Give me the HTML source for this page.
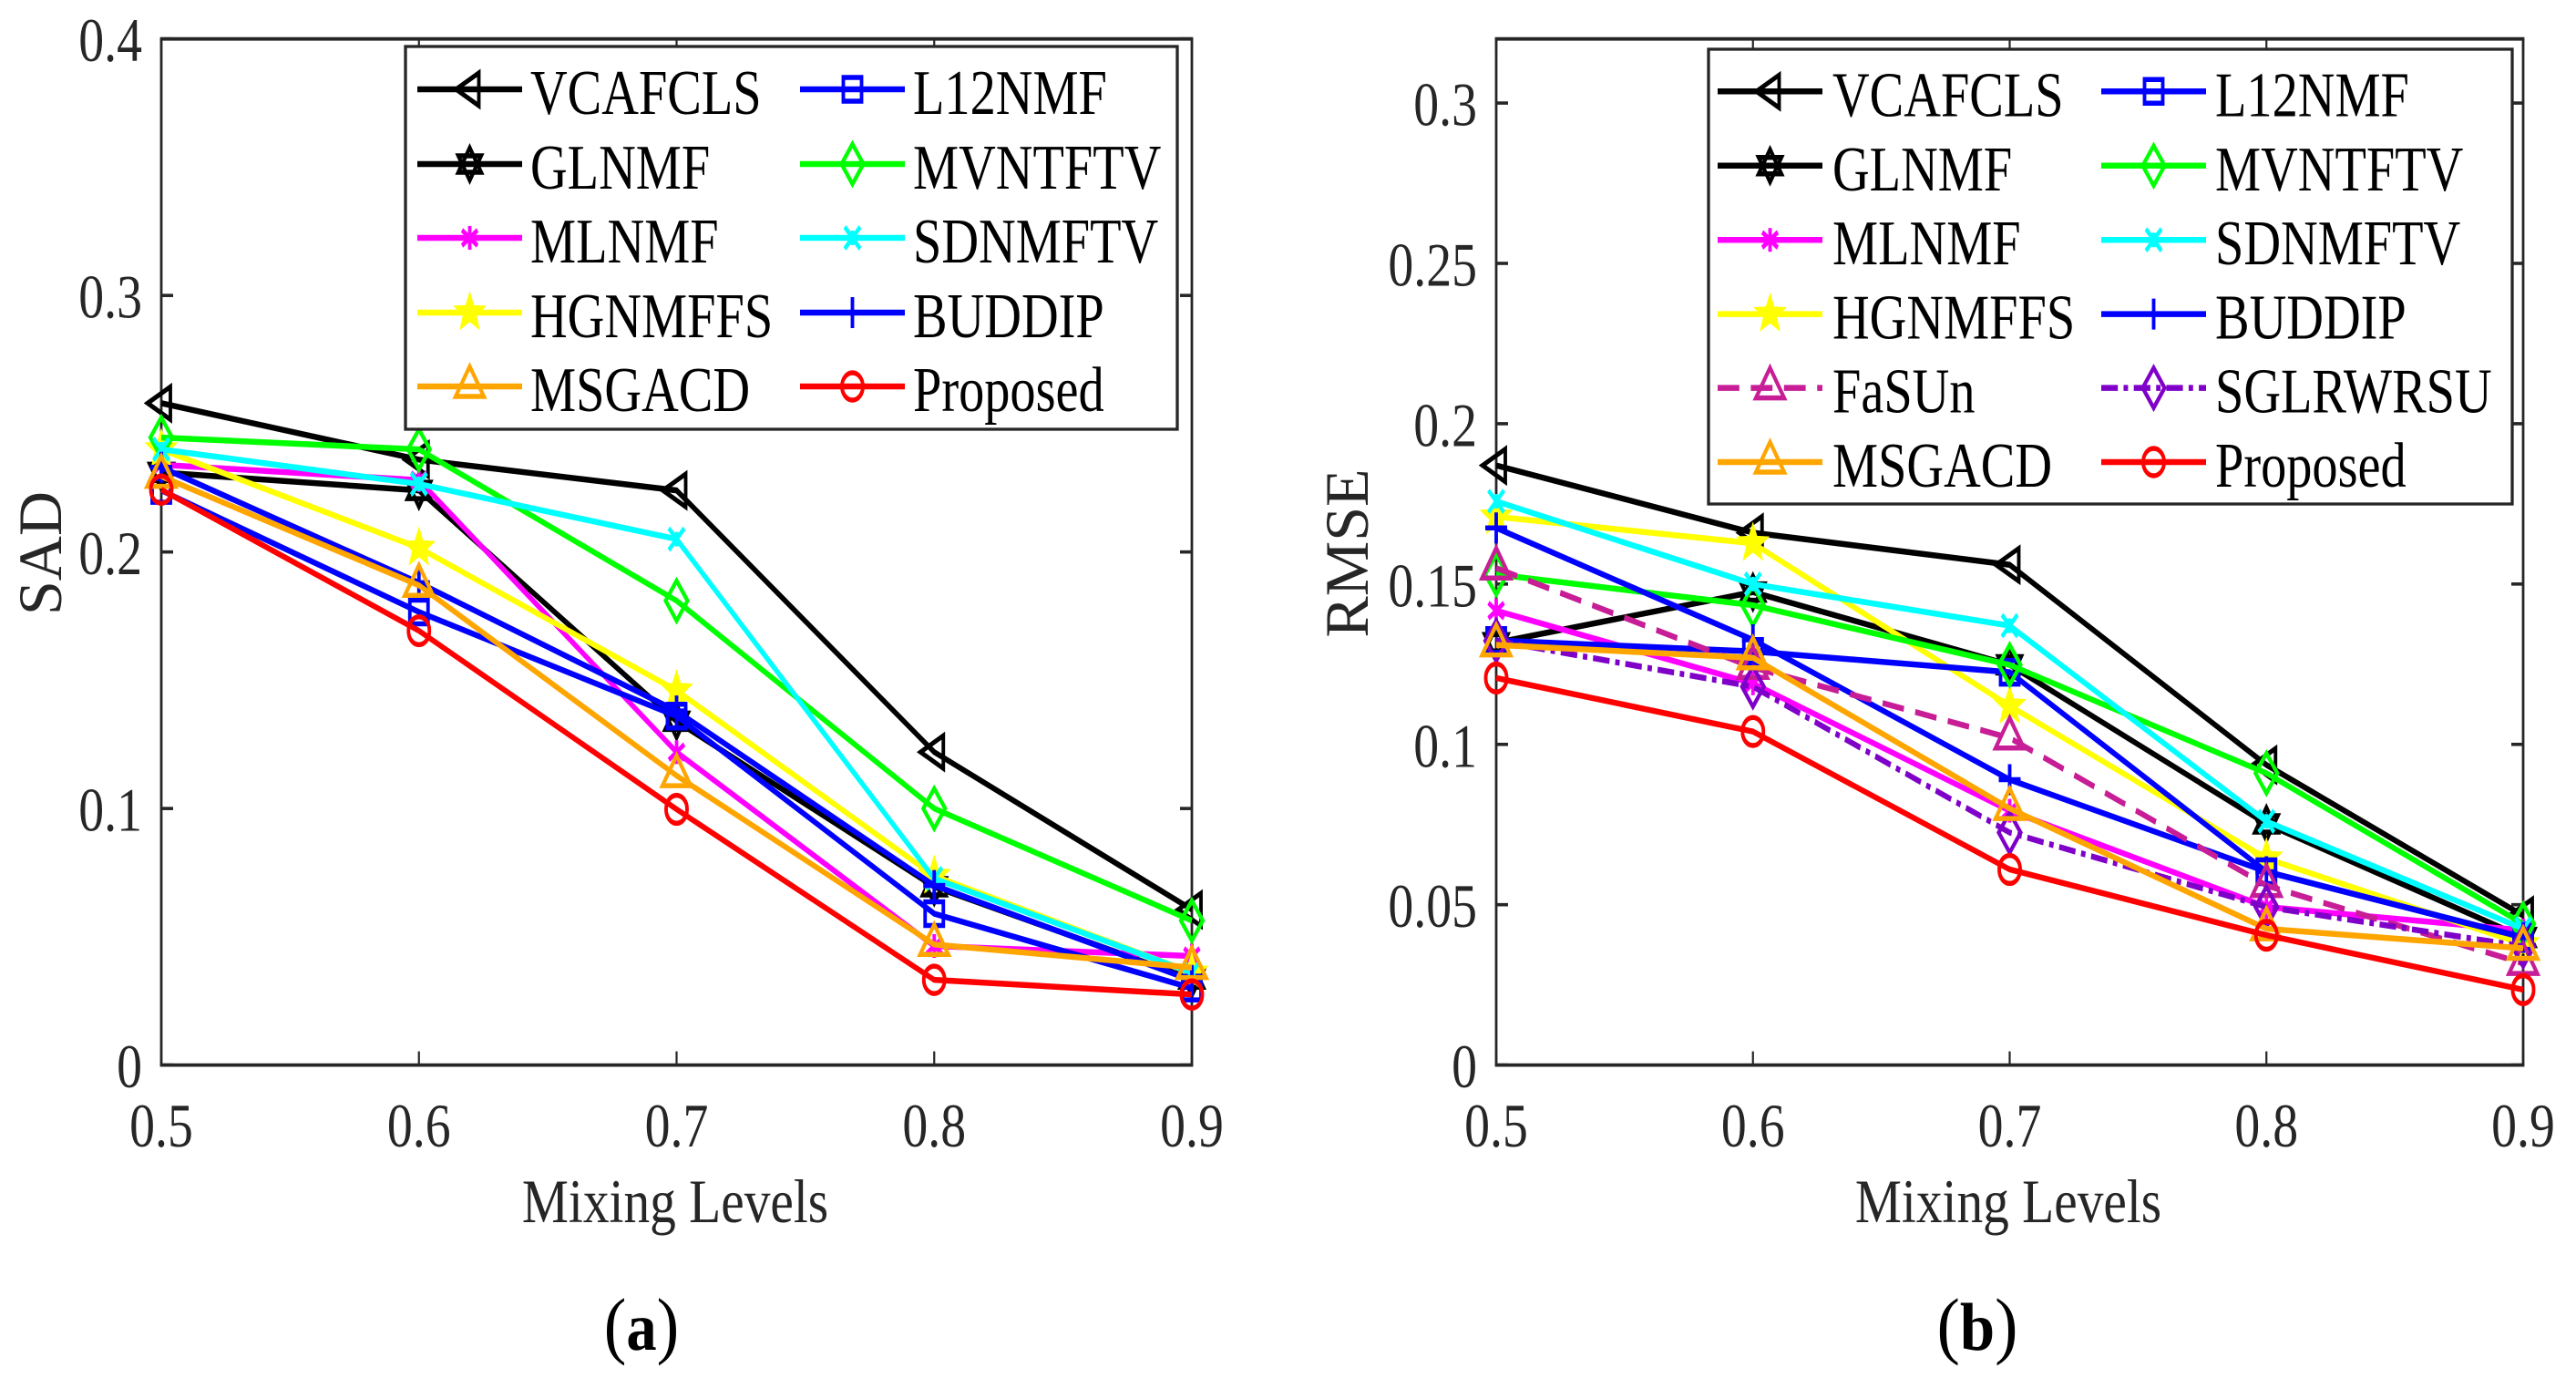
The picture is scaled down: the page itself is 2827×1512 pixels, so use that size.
<!DOCTYPE html>
<html lang="en">
<head>
<meta charset="utf-8">
<title>SAD and RMSE versus Mixing Levels</title>
<style>
html,body{margin:0;padding:0;background:#fff;}
svg{display:block;}
text{font-family:"Liberation Serif","DejaVu Serif",serif;}
</style>
</head>
<body>
<svg id="figure" xmlns="http://www.w3.org/2000/svg" width="2827" height="1512" viewBox="0 0 2827 1512">
  <rect x="0" y="0" width="2827" height="1512" fill="#ffffff"/>
  <g id="panel-a"></g>
  <g id="panel-b"></g>
  <text transform="translate(704,1481) scale(0.9,1)" text-anchor="middle" font-size="82" fill="#000">(<tspan font-weight="bold" font-size="74">a</tspan>)</text>
  <text transform="translate(2170,1481) scale(0.93,1)" text-anchor="middle" font-size="82" fill="#000">(<tspan font-weight="bold" font-size="74">b</tspan>)</text>
</svg>
<script>
// ---- shared categories ----
const mixingLevels = [0.5, 0.6, 0.7, 0.8, 0.9];
const xTickLabels = ['0.5', '0.6', '0.7', '0.8', '0.9'];

// ---- SAD panel data ----
const sadTicks = [0, 0.1, 0.2, 0.3, 0.4];
const sadTickLabels = ['0', '0.1', '0.2', '0.3', '0.4'];
const sadVCAFCLS = [0.258, 0.236, 0.224, 0.122, 0.0606];
const sadGLNMF = [0.231, 0.224, 0.134, 0.0695, 0.0335];
const sadMLNMF = [0.234, 0.228, 0.122, 0.0464, 0.0425];
const sadHGNMFFS = [0.240, 0.2016, 0.146, 0.0737, 0.036];
const sadMSGACD = [0.2295, 0.187, 0.1128, 0.047, 0.038];
const sadL12NMF = [0.224, 0.1766, 0.136, 0.059, 0.030];
const sadMVNTFTV = [0.2446, 0.240, 0.181, 0.100, 0.0563];
const sadSDNMFTV = [0.240, 0.2265, 0.205, 0.0727, 0.036];
const sadBUDDIP = [0.233, 0.188, 0.138, 0.070, 0.033];
const sadProposed = [0.2243, 0.1693, 0.0997, 0.0332, 0.0275];

// ---- RMSE panel data ----
const rmseTicks = [0, 0.05, 0.1, 0.15, 0.2, 0.25, 0.3];
const rmseTickLabels = ['0', '0.05', '0.1', '0.15', '0.2', '0.25', '0.3'];
const rmseVCAFCLS = [0.187, 0.166, 0.156, 0.0936, 0.0466];
const rmseGLNMF = [0.1317, 0.1475, 0.1248, 0.0752, 0.0398];
const rmseMLNMF = [0.1417, 0.119, 0.0793, 0.0493, 0.042];
const rmseHGNMFFS = [0.171, 0.1627, 0.112, 0.0644, 0.0377];
const rmseFaSUn = [0.155, 0.124, 0.102, 0.056, 0.0317];
const rmseSGLRWRSU = [0.1323, 0.118, 0.0725, 0.0493, 0.037];
const rmseMSGACD = [0.131, 0.127, 0.080, 0.0425, 0.0364];
const rmseL12NMF = [0.1324, 0.129, 0.1225, 0.0603, 0.0398];
const rmseMVNTFTV = [0.153, 0.1434, 0.1248, 0.091, 0.044];
const rmseSDNMFTV = [0.1758, 0.150, 0.137, 0.076, 0.0425];
const rmseBUDDIP = [0.1675, 0.1326, 0.089, 0.0603, 0.0398];
const rmseProposed = [0.1207, 0.104, 0.061, 0.0405, 0.0235];

// ---- series collections (draw order) ----
const sadSeries = [
  ['VCAFCLS', sadVCAFCLS], ['GLNMF', sadGLNMF], ['MLNMF', sadMLNMF], ['HGNMFFS', sadHGNMFFS],
  ['L12NMF', sadL12NMF], ['MVNTFTV', sadMVNTFTV], ['SDNMFTV', sadSDNMFTV], ['BUDDIP', sadBUDDIP],
  ['MSGACD', sadMSGACD], ['Proposed', sadProposed]
];
const rmseSeries = [
  ['VCAFCLS', rmseVCAFCLS], ['GLNMF', rmseGLNMF], ['MLNMF', rmseMLNMF], ['HGNMFFS', rmseHGNMFFS],
  ['L12NMF', rmseL12NMF], ['MVNTFTV', rmseMVNTFTV], ['SDNMFTV', rmseSDNMFTV], ['BUDDIP', rmseBUDDIP],
  ['FaSUn', rmseFaSUn], ['SGLRWRSU', rmseSGLRWRSU], ['MSGACD', rmseMSGACD], ['Proposed', rmseProposed]
];
const sadLegendColumns = [
  ['VCAFCLS', 'GLNMF', 'MLNMF', 'HGNMFFS', 'MSGACD'],
  ['L12NMF', 'MVNTFTV', 'SDNMFTV', 'BUDDIP', 'Proposed']
];
const rmseLegendColumns = [
  ['VCAFCLS', 'GLNMF', 'MLNMF', 'HGNMFFS', 'FaSUn', 'MSGACD'],
  ['L12NMF', 'MVNTFTV', 'SDNMFTV', 'BUDDIP', 'SGLRWRSU', 'Proposed']
];

// ---- styles ----
const seriesStyle = {
  VCAFCLS:  {color: '#000000', marker: 'triLeft',  width: 6.5},
  GLNMF:    {color: '#000000', marker: 'hexagram', width: 6.5},
  MLNMF:    {color: '#ff00ff', marker: 'asterisk', width: 6.5},
  HGNMFFS:  {color: '#ffff00', marker: 'pentagram', width: 6.5},
  FaSUn:    {color: '#c71d96', marker: 'triUp',    width: 6.5, dash: '34 18'},
  MSGACD:   {color: '#ffa500', marker: 'triUp',    width: 6.5},
  L12NMF:   {color: '#0000ff', marker: 'square',   width: 6.5},
  MVNTFTV:  {color: '#00ff00', marker: 'diamond',  width: 6.5},
  SDNMFTV:  {color: '#00ffff', marker: 'cross',    width: 6.5},
  BUDDIP:   {color: '#0000ff', marker: 'plus',     width: 6.5},
  SGLRWRSU: {color: '#7f00c8', marker: 'diamond',  width: 6.5, dash: '26 9 7 9'},
  Proposed: {color: '#ff0000', marker: 'circle',   width: 6.5}
};
const NIB = 0.7; // horizontal compression of strokes in the stretched original
const SVGNS = 'http://www.w3.org/2000/svg';
const AXIS_COLOR = '#262626';

function make(tag, attrs, parent) {
  const el = document.createElementNS(SVGNS, tag);
  for (const k in attrs) el.setAttribute(k, attrs[k]);
  parent.appendChild(el);
  return el;
}
function slug(s) { return s.toLowerCase().replace(/[^a-z0-9]+/g, '-'); }

function pts(list) {
  return list.map(p => (p[0] / NIB).toFixed(2) + ',' + p[1].toFixed(2)).join(' ');
}
function markerPaths(kind, cx, cy) {
  const P = (arr) => arr.map(p => [cx + p[0], cy + p[1]]);
  const closed = (arr) => 'M' + pts(P(arr)).split(' ').join('L') + 'Z';
  const open = (arr) => 'M' + pts(P(arr)).split(' ').join('L');
  switch (kind) {
    case 'triLeft':  return {d: closed([[-15, 0], [10, -18], [10, 18]])};
    case 'triUp':    return {d: closed([[0, -22], [15.5, 11], [-15.5, 11]])};
    case 'square':   return {d: closed([[-10, -13], [10, -13], [10, 13], [-10, 13]])};
    case 'diamond':  return {d: closed([[0, -22], [12, 0], [0, 22], [-12, 0]])};
    case 'circle': {
      const rx = 11.5, ry = 15;
      return {d: 'M' + ((cx - rx) / NIB).toFixed(2) + ',' + cy.toFixed(2) +
        'A' + (rx / NIB).toFixed(2) + ',' + ry + ' 0 1 0 ' + ((cx + rx) / NIB).toFixed(2) + ',' + cy.toFixed(2) +
        'A' + (rx / NIB).toFixed(2) + ',' + ry + ' 0 1 0 ' + ((cx - rx) / NIB).toFixed(2) + ',' + cy.toFixed(2) + 'Z'};
    }
    case 'hexagram':
      return {d: closed([[0, -18], [12.5, 9], [-12.5, 9]]) + closed([[0, 18], [12.5, -9], [-12.5, -9]])};
    case 'asterisk':
      return {d: open([[0, -13], [0, 13]]) + open([[-8.5, -8.5], [8.5, 8.5]]) + open([[-8.5, 8.5], [8.5, -8.5]]), open: true};
    case 'cross':
      return {d: open([[-8.5, -12], [8.5, 12]]) + open([[-8.5, 12], [8.5, -12]]) + open([[0, -8], [0, 8]]), open: true};
    case 'plus':
      return {d: open([[-12, 0], [12, 0]]) + open([[0, -17], [0, 17]]), open: true};
    case 'pentagram': {
      const star = [];
      for (let i = 0; i < 10; i++) {
        const a = -Math.PI / 2 + i * Math.PI / 5;
        const r = i % 2 === 0 ? 1 : 0.42;
        star.push([16 * r * Math.cos(a), 20 * r * Math.sin(a)]);
      }
      return {d: closed(star), filled: true};
    }
  }
}
function drawMarker(parent, style, cx, cy, name) {
  const m = markerPaths(style.marker, cx, cy);
  const el = make('path', {
    d: m.d,
    fill: m.filled ? style.color : 'none',
    stroke: style.color,
    'stroke-width': m.filled ? 3 : 5.5,
    'stroke-linejoin': 'miter'
  }, parent);
  
  
}
function scaledText(parent, str, x, y, size, sx, anchor, fill) {
  const el = make('text', {
    transform: 'translate(' + x + ',' + y + ') scale(' + sx + ',1)',
    'font-size': size,
    'text-anchor': anchor,
    fill: fill
  }, parent);
  el.textContent = str;
  return el;
}

function drawChart(cfg) {
  const root = document.getElementById(cfg.rootId);
  const x0 = cfg.x0, x1 = cfg.x1, yTop = 42.7, yBot = 1168.6;
  const xScale = v => x0 + (v - 0.5) / (0.9 - 0.5) * (x1 - x0);
  const yScale = v => yBot - v / cfg.yMax * (yBot - yTop);

  // plot frame: horizontal edges are heavier than vertical ones in the source
  const frameBg = make('rect', {x: x0, y: yTop, width: x1 - x0, height: yBot - yTop, fill: '#ffffff'}, root);
  
  
  const spineB = make('line', {x1: x0 - 1.4, x2: x1 + 1.4, y1: yBot, y2: yBot, stroke: AXIS_COLOR, 'stroke-width': 3.8}, root);
  
  
  const spineT = make('line', {x1: x0 - 1.4, x2: x1 + 1.4, y1: yTop, y2: yTop, stroke: AXIS_COLOR, 'stroke-width': 3.8}, root);
  
  
  const spineL = make('line', {x1: x0, x2: x0, y1: yTop, y2: yBot, stroke: AXIS_COLOR, 'stroke-width': 2.8}, root);
  
  
  const spineR = make('line', {x1: x1, x2: x1, y1: yTop, y2: yBot, stroke: AXIS_COLOR, 'stroke-width': 2.8}, root);
  
  

  // x ticks and labels
  mixingLevels.forEach((v, i) => {
    const px = xScale(v);
    const tickB = make('line', {x1: px, x2: px, y1: yBot, y2: yBot - 15, stroke: AXIS_COLOR, 'stroke-width': 2.2}, root);
    
    
    const tickT = make('line', {x1: px, x2: px, y1: yTop, y2: yTop + 15, stroke: AXIS_COLOR, 'stroke-width': 2.2}, root);
    
    
    const lab = scaledText(root, xTickLabels[i], px, 1258, 68, 0.82, 'middle', AXIS_COLOR);
    
    
  });

  // y ticks and labels
  cfg.yTicks.forEach((v, i) => {
    const py = yScale(v);
    const tickL = make('line', {x1: x0, x2: x0 + 13, y1: py, y2: py, stroke: AXIS_COLOR, 'stroke-width': 3.6}, root);
    
    
    const tickR = make('line', {x1: x1, x2: x1 - 13, y1: py, y2: py, stroke: AXIS_COLOR, 'stroke-width': 3.6}, root);
    
    
    const lab = scaledText(root, cfg.yTickLabels[i], x0 - 21, py + 24.5, 68, 0.82, 'end', AXIS_COLOR);
    
    
  });

  // axis titles
  const xt = scaledText(root, 'Mixing Levels', (x0 + x1) / 2 - 1.5, 1341, 68, 0.844, 'middle', AXIS_COLOR);
  
  
  const yt = make('text', {
    transform: 'translate(' + cfg.yTitleX + ',607) rotate(-90)',
    'font-size': 68,
    'text-anchor': 'middle',
    fill: AXIS_COLOR
  }, root);
  yt.textContent = cfg.yTitle;
  
  

  // series (strokes use a compressed horizontal nib like the stretched source)
  const marks = make('g', {transform: 'scale(' + NIB + ',1)'}, root);
  
  
  cfg.series.forEach(entry => {
    const name = entry[0], values = entry[1], style = seriesStyle[name];
    const g = make('g', {}, marks);
    
    
    const coords = values.map((v, i) => [xScale(mixingLevels[i]), yScale(v)]);
    const line = make('polyline', {
      points: pts(coords),
      fill: 'none',
      stroke: style.color,
      'stroke-width': style.width,
      'stroke-linejoin': 'miter'
    }, g);
    if (style.dash) line.setAttribute('stroke-dasharray', style.dash);
    
    
    coords.forEach(c => drawMarker(g, style, c[0], c[1], 'point-' + slug(name)));
  });

  // legend
  const L = cfg.legend;
  const lg = make('g', {}, root);
  
  
  const box = make('rect', {x: L.x0, y: L.y0, width: L.x1 - L.x0, height: L.y1 - L.y0, fill: '#ffffff', stroke: AXIS_COLOR, 'stroke-width': 3.3}, lg);
  
  
  L.columns.forEach((col, c) => {
    col.forEach((name, r) => {
      const style = seriesStyle[name];
      const y = L.rows[r];
      const e = make('g', {}, lg);
      
      
      const scaled = make('g', {transform: 'scale(' + NIB + ',1)'}, e);
      
      
      const ln = make('line', {
        x1: L.lineX[c] / NIB,
        x2: (L.lineX[c] + 115) / NIB,
        y1: y,
        y2: y,
        stroke: style.color,
        'stroke-width': style.width
      }, scaled);
      if (style.dash) ln.setAttribute('stroke-dasharray', style.dash);
      
      
      drawMarker(scaled, style, L.lineX[c] + 57.5, y, 'legend-marker-' + slug(name));
      const t = scaledText(e, name, L.textX[c], y + 27, 70, 0.805, 'start', '#000000');
      
      
    });
  });
}

drawChart({
  rootId: 'panel-a',
  x0: 177, x1: 1308,
  yMax: 0.4,
  yTicks: sadTicks,
  yTickLabels: sadTickLabels,
  yTitle: 'SAD',
  yTitleX: 67,
  series: sadSeries,
  legend: {
    x0: 445, x1: 1292, y0: 51, y1: 471,
    rows: [98, 180, 261, 343, 424],
    lineX: [458, 878],
    textX: [582, 1002],
    columns: sadLegendColumns
  }
});
drawChart({
  rootId: 'panel-b',
  x0: 1642, x1: 2769,
  yMax: 0.32,
  yTicks: rmseTicks,
  yTickLabels: rmseTickLabels,
  yTitle: 'RMSE',
  yTitleX: 1501,
  series: rmseSeries,
  legend: {
    x0: 1875, x1: 2757, y0: 54, y1: 553,
    rows: [100.3, 181.8, 263.2, 344.6, 425.6, 507],
    lineX: [1885, 2306],
    textX: [2011, 2431],
    columns: rmseLegendColumns
  }
});
</script>
</body>
</html>
